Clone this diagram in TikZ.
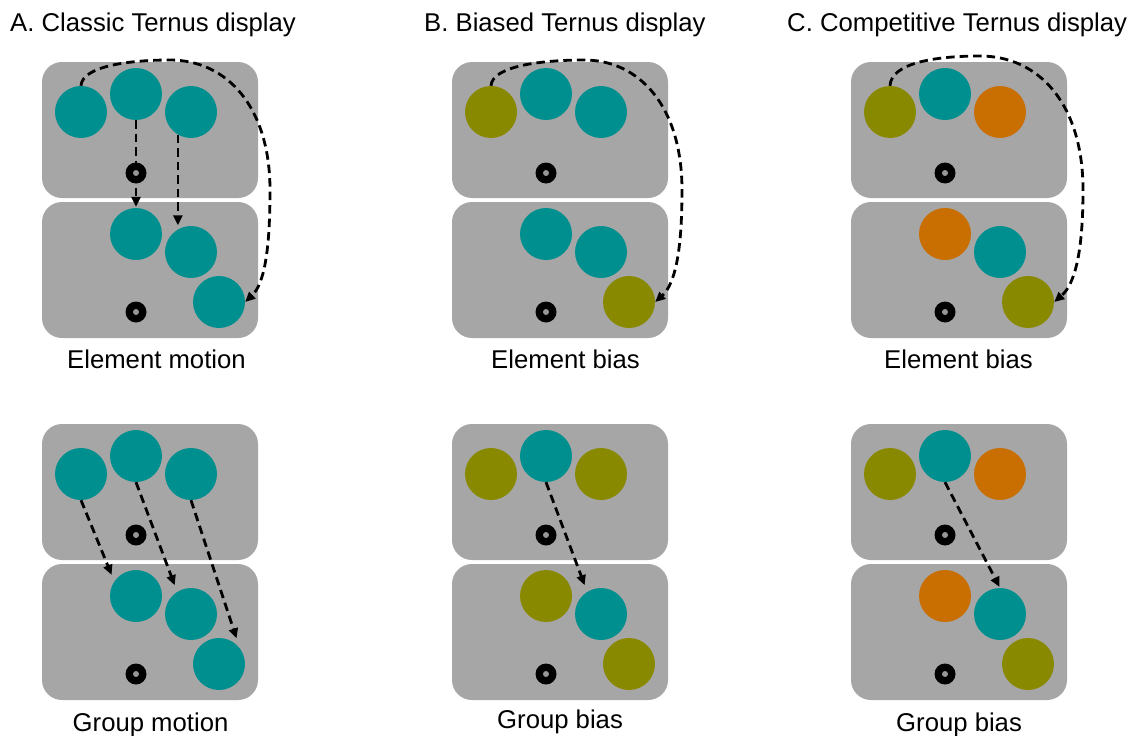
\documentclass[tikz,border=0pt]{standalone}
\usepackage{fontspec}
\setmainfont{Liberation Sans}
\usetikzlibrary{arrows.meta}

\definecolor{panelgrey}{RGB}{166,166,166}
\definecolor{teal}{RGB}{0,143,143}
\definecolor{olive}{RGB}{137,137,0}
\definecolor{amber}{RGB}{201,110,0}
\definecolor{dotgrey}{RGB}{150,150,150}

\tikzset{
  panel/.style={rectangle, rounded corners=20pt, fill=panelgrey,
    minimum width=216pt, minimum height=136pt, inner sep=0pt},
  disc/.style={circle, minimum size=52pt, inner sep=0pt},
  fixring/.style={circle, fill=black, minimum size=21pt, inner sep=0pt},
  fixcore/.style={circle, fill=dotgrey, minimum size=6pt, inner sep=0pt},
  move/.style={line width=2.8pt, dash pattern=on 8.5pt off 5pt,
    -{Triangle[length=10pt,width=9pt]}},
  label/.style={font=\fontsize{25.7}{30}\selectfont, inner sep=0pt}
}

% One two-frame stimulus: frame 1 on top, frame 2 below.
% #1 prefix, #2/#3 top-left corner, #4-#6 frame-1 colours, #7-#9 frame-2 colours
\newcommand{\ternuspair}[9]{%
  \begin{scope}[shift={(#2,#3)}]
    \node[panel] (#1-top) at (108,68) {};
    \node[panel] (#1-bot) at (108,208) {};
    \node[disc, fill=#4] (#1-t1) at (39,50) {};
    \node[disc, fill=#5] (#1-t2) at (94,32) {};
    \node[disc, fill=#6] (#1-t3) at (149,50) {};
    \node[disc, fill=#7] (#1-b1) at (94,172) {};
    \node[disc, fill=#8] (#1-b2) at (149,190) {};
    \node[disc, fill=#9] (#1-b3) at (177,240) {};
  \end{scope}}

% Fixation marks of one stimulus, drawn last so they sit above the paths
\newcommand{\fixmarks}[3]{%
  \begin{scope}[shift={(#2,#3)}]
    \node[fixring] (#1-ft) at (94,111) {};
    \node[fixcore] (#1-ftc) at (94,111) {};
    \node[fixring] (#1-fb) at (94,250) {};
    \node[fixcore] (#1-fbc) at (94,250) {};
  \end{scope}}

\begin{document}
\begin{tikzpicture}[x=1pt, y=-1pt]
  \useasboundingbox (0,0) rectangle (1135,736);

  % column headings
  \node[label, anchor=base west] (headA) at (10,31.7) {A. Classic Ternus display};
  \node[label, anchor=base west] (headB) at (424,31.7) {B. Biased Ternus display};
  \node[label, anchor=base west] (headC) at (787,31.7) {C. Competitive Ternus display};

  % stimuli
  \ternuspair{A1}{42}{62}{teal}{teal}{teal}{teal}{teal}{teal}
  \ternuspair{B1}{452}{62}{olive}{teal}{teal}{teal}{teal}{olive}
  \ternuspair{C1}{851}{62}{olive}{teal}{amber}{amber}{teal}{olive}
  \ternuspair{A2}{42}{424}{teal}{teal}{teal}{teal}{teal}{teal}
  \ternuspair{B2}{452}{424}{olive}{teal}{olive}{olive}{teal}{olive}
  \ternuspair{C2}{851}{424}{olive}{teal}{amber}{amber}{teal}{olive}

  % element motion
  \draw[move, shorten >=1pt] (A1-t2.south) -- (A1-b1.north);
  \draw[move, shorten >=4pt] (A1-t3.-120) -- (A1-b2.120);
  \begin{scope}[shift={(42,62)}]
    \draw[move] (A1-t1.north) .. controls (40,4) and (88,-2) .. (128,-2)
      .. controls (185,-2) and (228,45) .. (228,128)
      .. controls (228,190) and (222,222) .. (A1-b3.east);
  \end{scope}
  \begin{scope}[shift={(452,62)}]
    \draw[move] (B1-t1.north) .. controls (40,4) and (90,-2) .. (132,-2)
      .. controls (188,-2) and (230,45) .. (230,128)
      .. controls (230,190) and (223,222) .. (B1-b3.east);
  \end{scope}
  \begin{scope}[shift={(851,62)}]
    \draw[move] (C1-t1.north) .. controls (40,0) and (88,-6) .. (129,-6)
      .. controls (188,-6) and (232,42) .. (232,128)
      .. controls (232,190) and (224,222) .. (C1-b3.east);
  \end{scope}

  % group motion
  \draw[move, shorten >=7pt] (A2-t1.south) -- (A2-b1.146);
  \draw[move, shorten >=7pt] (A2-t2.south) -- (A2-b2.122);
  \draw[move, shorten >=10pt] (A2-t3.south) -- (A2-b3.38);
  \draw[move, shorten >=7pt] (B2-t2.south) -- (B2-b2.122);
  \draw[move, shorten >=1pt] (C2-t2.south) -- (C2-b2.north);

  % fixation marks
  \fixmarks{A1}{42}{62}
  \fixmarks{B1}{452}{62}
  \fixmarks{C1}{851}{62}
  \fixmarks{A2}{42}{424}
  \fixmarks{B2}{452}{424}
  \fixmarks{C2}{851}{424}

  % captions
  \node[label, anchor=base west] (capA1) at (67,368.3) {Element motion};
  \node[label, anchor=base west] (capB1) at (491,368.3) {Element bias};
  \node[label, anchor=base west] (capC1) at (884,368.3) {Element bias};
  \node[label, anchor=base west] (capA2) at (72.5,731) {Group motion};
  \node[label, anchor=base west] (capB2) at (497,728.7) {Group bias};
  \node[label, anchor=base west] (capC2) at (896,731) {Group bias};
\end{tikzpicture}
\end{document}
